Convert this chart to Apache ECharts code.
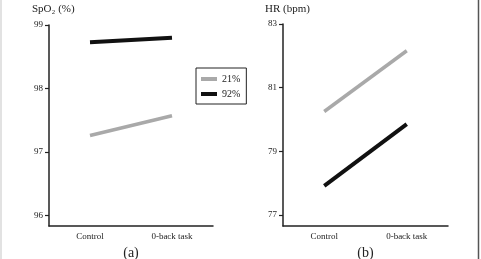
<!DOCTYPE html>
<html>
<head>
<meta charset="utf-8">
<script src="https://cdn.jsdelivr.net/npm/echarts@6/dist/echarts.min.js"></script>
<style>html,body{margin:0;padding:0;background:#fff}#c{width:481px;height:259px}</style>
</head>
<body>
<div id="c"></div>
<script>
var categories = ['Control', '0-back task'];
var seriesNames = ['21%', '92%'];
var spo2_21 = [97.26, 97.57];
var spo2_92 = [98.73, 98.80];
var hr_21 = [80.25, 82.16];
var hr_92 = [77.91, 79.85];
var spo2Ticks = [96, 97, 98, 99];
var hrTicks = [77, 79, 81, 83];

var FONT = 'Liberation Serif';
var GRAY = '#a9a9a9', BLACK = '#111111';
var chart = echarts.init(document.getElementById('c'), null, {renderer: 'canvas'});

function xAx(idx, label) {
  return {
    type: 'category', gridIndex: idx, data: categories, boundaryGap: true,
    axisLine: {lineStyle: {color: '#222', width: 1.5}},
    axisTick: {alignWithLabel: true, length: 4, lineStyle: {color: '#222', width: 1.2}},
    axisLabel: {color: '#222', fontFamily: FONT, fontSize: 9, margin: 6},
    name: label, nameLocation: 'middle', nameGap: 19,
    nameTextStyle: {color: '#222', fontFamily: FONT, fontSize: 14}
  };
}
function yAx(idx, min, max, ticks) {
  return {
    type: 'value', gridIndex: idx, min: min, max: max,
    splitLine: {show: false},
    axisLine: {show: true, lineStyle: {color: '#222', width: 1.5}},
    axisTick: {show: true, length: 4, customValues: ticks, lineStyle: {color: '#222', width: 1.2}},
    axisLabel: {color: '#222', fontFamily: FONT, fontSize: 9, margin: 6, customValues: ticks}
  };
}
function ser(name, xi, data, color, w) {
  return {
    name: name, type: 'line', xAxisIndex: xi, yAxisIndex: xi, data: data,
    symbol: 'none', lineStyle: {color: color, width: w, cap: 'butt'}, itemStyle: {color: color},
    animation: false
  };
}

chart.setOption({
  animation: false,
  grid: [
    {left: 49, top: 25, width: 164, height: 201, outerBoundsMode: 'none', containLabel: false},
    {left: 283, top: 24, width: 165, height: 202, outerBoundsMode: 'none', containLabel: false}
  ],
  xAxis: [xAx(0, '(a)'), xAx(1, '(b)')],
  yAxis: [yAx(0, 95.835, 99, spo2Ticks), yAx(1, 76.65, 83, hrTicks)],
  legend: {
    data: seriesNames, orient: 'vertical', left: 196, top: 68,
    padding: [6, 6, 5, 5], itemGap: 5, itemWidth: 16, itemHeight: 4, icon: 'rect',
    borderColor: '#222', borderWidth: 1,
    textStyle: {color: '#222', fontFamily: FONT, fontSize: 10}
  },
  series: [
    ser(seriesNames[0], 0, spo2_21, GRAY, 3.5),
    ser(seriesNames[1], 0, spo2_92, BLACK, 4),
    ser(seriesNames[0], 1, hr_21, GRAY, 3.5),
    ser(seriesNames[1], 1, hr_92, BLACK, 4)
  ],
  graphic: [
    {type: 'text', left: 32, top: 4, style: {text: 'SpO₂ (%)', fill: '#222', font: '11px "Liberation Serif"'}},
    {type: 'text', left: 265, top: 4, style: {text: 'HR (bpm)', fill: '#222', font: '11px "Liberation Serif"'}},
    {type: 'line', shape: {x1: 1, y1: 0, x2: 1, y2: 259}, style: {stroke: '#d8d8d8', lineWidth: 1.5}},
    {type: 'line', shape: {x1: 478.5, y1: 0, x2: 478.5, y2: 259}, style: {stroke: '#555', lineWidth: 1.5}}
  ]
});
</script>
</body>
</html>
